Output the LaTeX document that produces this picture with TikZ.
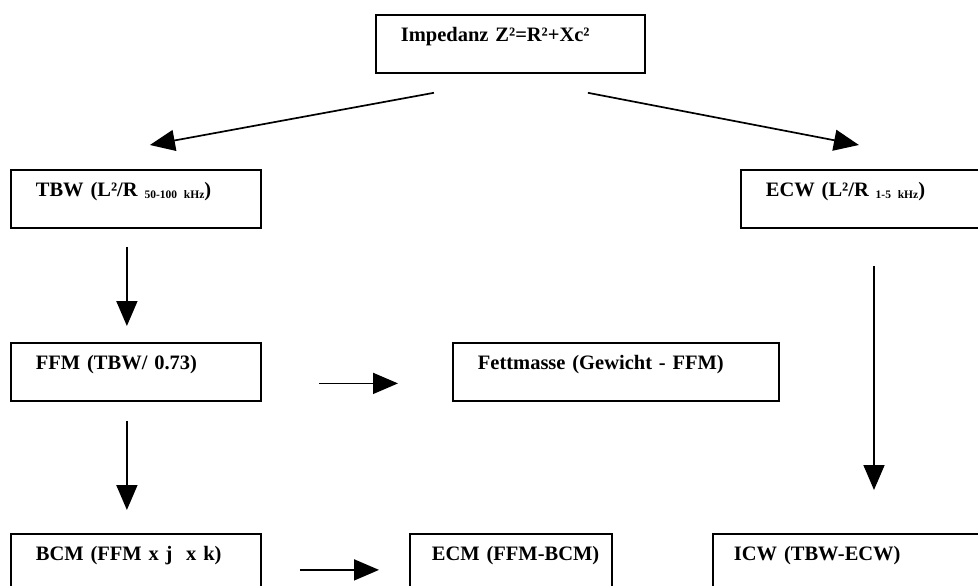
\documentclass[tikz,border=0pt]{standalone}
\usepackage{fontspec}
\setmainfont{Liberation Serif}
\usetikzlibrary{arrows.meta,positioning}

% kleiner Index (Frequenzbereich)
\newcommand{\freqidx}[1]{\raisebox{-2pt}{\fontsize{11.5}{12}\selectfont #1}}

\begin{document}
\begin{tikzpicture}[x=1pt, y=-1pt, >={Triangle[length=25pt, width=21pt]},
    box/.style={draw, line width=1.8pt, anchor=north west, inner xsep=0pt, inner ysep=0pt,
        text width=#1, align=left, text height=27pt, text depth=31pt,
        font=\bfseries\fontsize{20.5}{21}\selectfont,
        execute at begin node={\hspace*{25pt}}},
    arr/.style={->, line width=1.7pt}]

    % --- RAHMEN ---
    \clip (0,0) rectangle (978,586);

    % Kaesten
    \node[box=269pt] (imp)  at (375,14)  {Impedanz Z²=R²+Xc²};
    \node[box=250pt] (tbw)  at (10,169)  {TBW (L²/R \freqidx{50-100 kHz})};
    \node[box=250pt] (ecw)  at (740,169) {ECW (L²/R \freqidx{1-5 kHz})};
    \node[box=250pt] (ffm)  at (10,342)  {FFM (TBW/ 0.73)};
    \node[box=326pt] (fett) at (452,342) {Fettmasse (Gewicht - FFM)};
    \node[box=250pt] (bcm)  at (10,533)  {BCM (FFM x j~ x k)};
    \node[box=202pt] (ecm)  at (409,533) {\hspace*{-3pt}ECM (FFM-BCM)};
    \node[box=270pt] (icw)  at (712,533) {\hspace*{-4pt}ICW (TBW-ECW)};

    % --- PFEILE ---
    \draw[arr] ([xshift=-76.5pt, yshift=-19pt]imp.south) -- ([xshift=14pt, yshift=24pt]tbw.north);
    \draw[arr] ([xshift=77.5pt, yshift=-19pt]imp.south) -- ([xshift=-7pt, yshift=24pt]ecw.north);

    \draw[arr, shorten <=18pt, shorten >=16pt] ([xshift=-9pt]tbw.south) -- ([xshift=-9pt]ffm.north);
    \draw[arr, shorten <=19pt, shorten >=23pt] ([xshift=-9pt]ffm.south) -- ([xshift=-9pt]bcm.north);
    \draw[arr, shorten <=37pt, shorten >=43pt] ([xshift=134pt]ecw.south west) -- ([xshift=134pt]ecw.south west |- icw.north);

    \draw[arr, shorten <=57pt, shorten >=54pt] ([yshift=-11.5pt]ffm.east) -- ([yshift=-11.5pt]ffm.east -| fett.west);
    \draw[arr, shorten <=38pt, shorten >=30pt] ([yshift=-7pt]bcm.east) -- ([yshift=-7pt]bcm.east -| ecm.west);
\end{tikzpicture}
\end{document}
